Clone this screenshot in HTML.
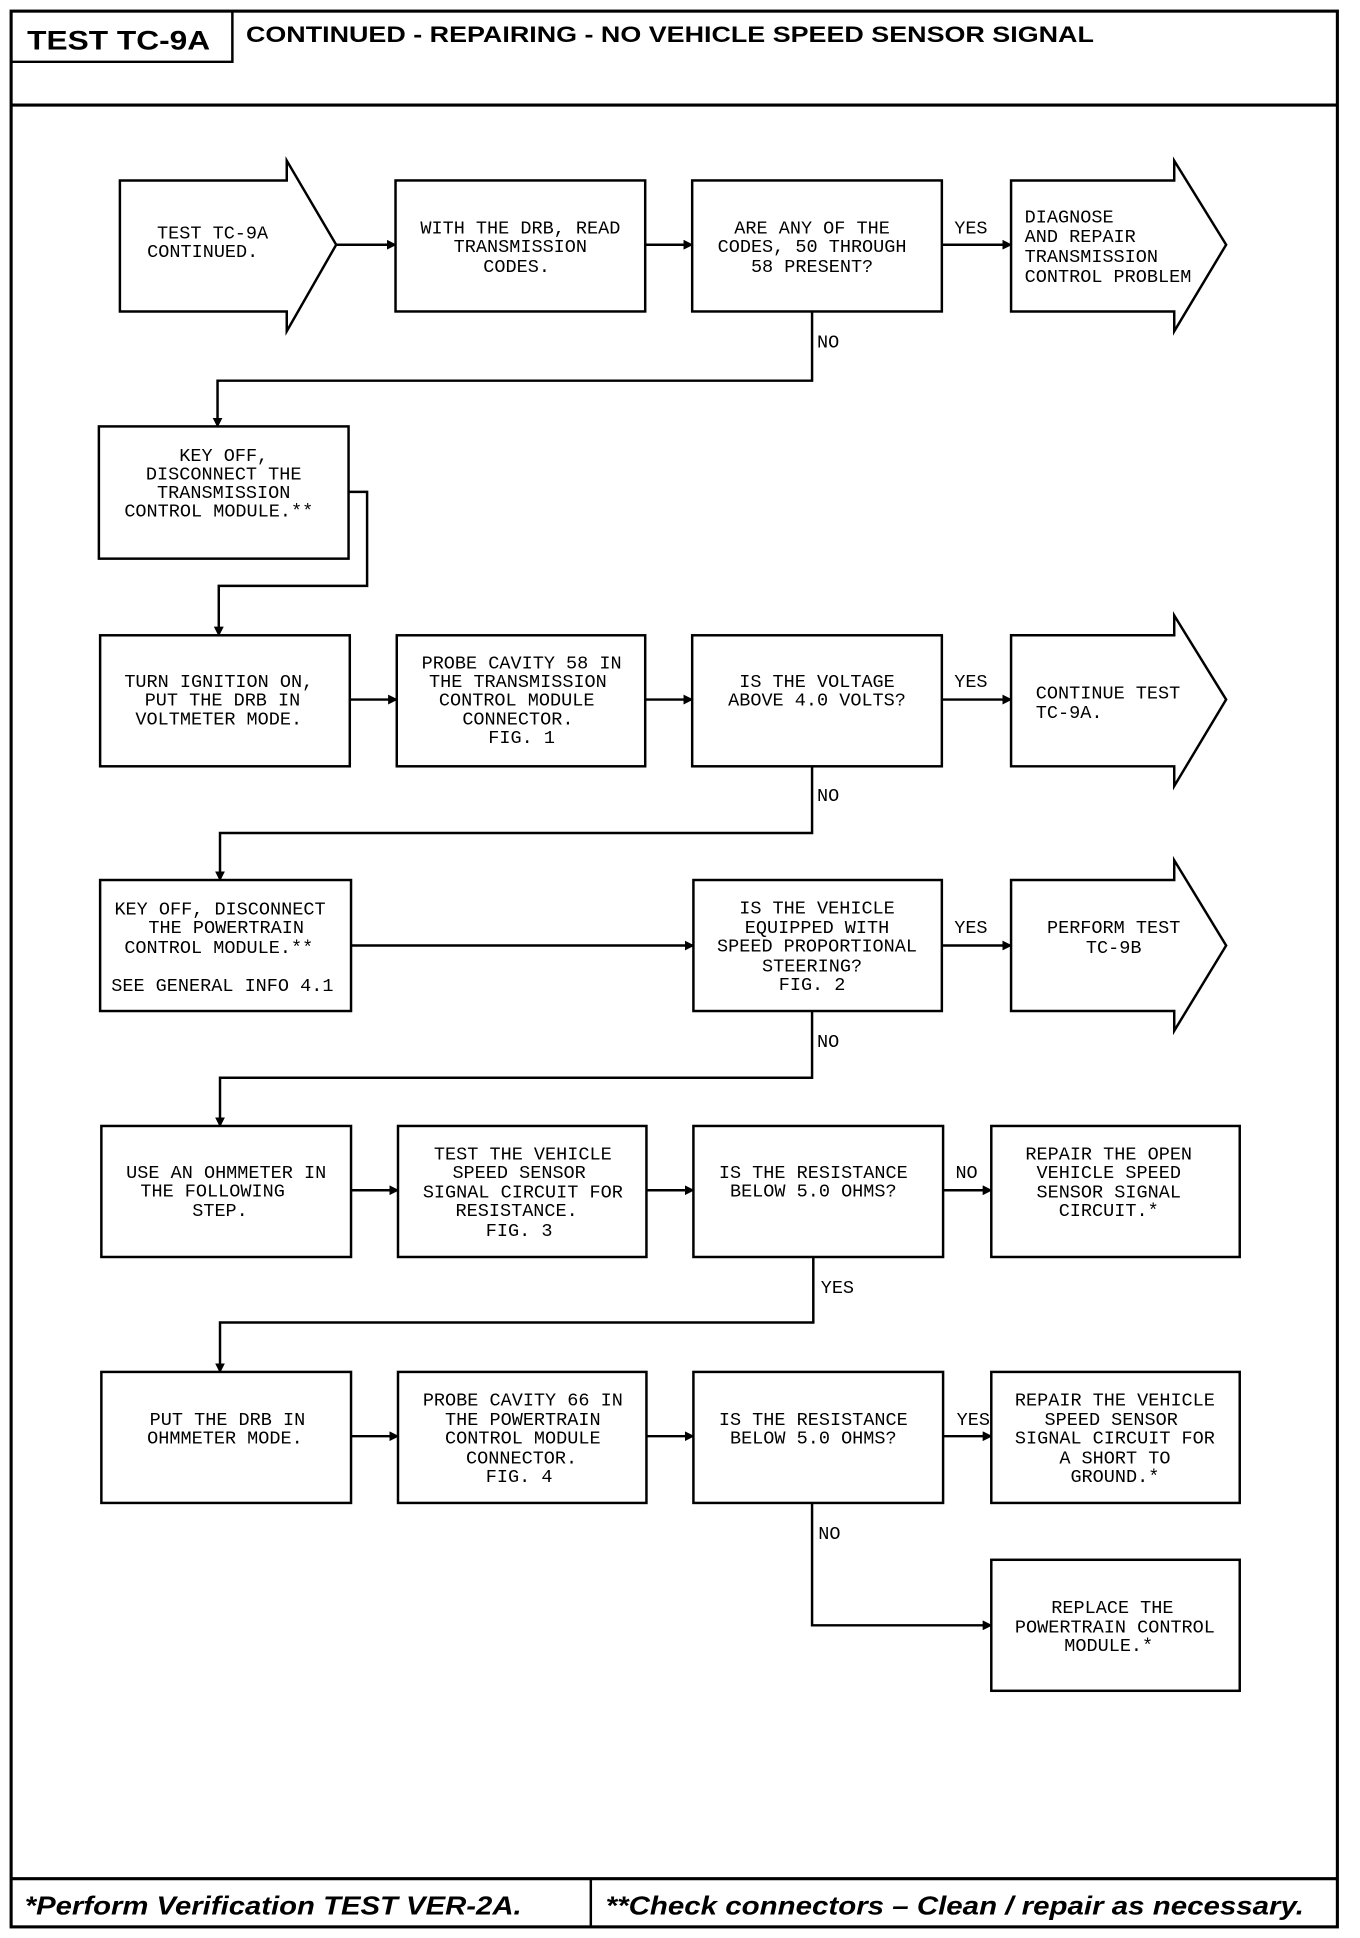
<!DOCTYPE html>
<html><head><meta charset="utf-8"><style>
html,body{margin:0;padding:0;background:#fff;}
svg{display:block;}
.t{font-family:"Liberation Mono",monospace;font-size:15px;fill:#000;}
.c{text-anchor:middle;}
.b{fill:#fff;stroke:#000;stroke-width:2;}
.l{fill:none;stroke:#000;stroke-width:2;}
</style></head><body>
<svg width="1360" height="1938" viewBox="0 0 1100.3 1568" preserveAspectRatio="none" xmlns="http://www.w3.org/2000/svg">
<defs><marker id="a" markerWidth="8" markerHeight="8" refX="7" refY="4" orient="auto" markerUnits="userSpaceOnUse"><path d="M0,0 L8,4 L0,8 z" fill="#000"/></marker></defs>
<rect x="9" y="9" width="1073" height="1550" fill="none" stroke="#000" stroke-width="2.5"/>
<path d="M188,9 V50 H9" class="l"/>
<line x1="9" y1="85" x2="1082" y2="85" stroke="#000" stroke-width="2.5"/>
<line x1="9" y1="1520" x2="1082" y2="1520" stroke="#000" stroke-width="2.5"/>
<line x1="478" y1="1520" x2="478" y2="1559" stroke="#000" stroke-width="2"/>
<text x="22" y="40" font-family="Liberation Sans,sans-serif" font-weight="bold" font-size="22" textLength="148" lengthAdjust="spacingAndGlyphs">TEST TC-9A</text>
<text x="199" y="34" font-family="Liberation Sans,sans-serif" font-weight="bold" font-size="18" textLength="686" lengthAdjust="spacingAndGlyphs">CONTINUED -  REPAIRING - NO VEHICLE SPEED SENSOR SIGNAL</text>
<text x="20" y="1549" font-family="Liberation Sans,sans-serif" font-weight="bold" font-style="italic" font-size="21" textLength="402" lengthAdjust="spacingAndGlyphs">*Perform Verification TEST VER-2A.</text>
<text x="490" y="1549" font-family="Liberation Sans,sans-serif" font-weight="bold" font-style="italic" font-size="21" textLength="565" lengthAdjust="spacingAndGlyphs">**Check connectors – Clean / repair as necessary.</text>

<!-- Row 1 -->
<polygon class="b" points="97,146 232,146 232,130 272,198 232,268 232,252 97,252"/>
<rect class="b" x="320" y="146" width="202" height="106"/>
<rect class="b" x="560" y="146" width="202" height="106"/>
<polygon class="b" points="818,146 950,146 950,130 992,198 950,268 950,252 818,252"/>
<line class="l" x1="272" y1="198" x2="320" y2="198" marker-end="url(#a)"/>
<line class="l" x1="522" y1="198" x2="560" y2="198" marker-end="url(#a)"/>
<line class="l" x1="762" y1="198" x2="818" y2="198" marker-end="url(#a)"/>
<text class="t c" x="172" y="193">TEST TC-9A</text>
<text class="t c" x="164" y="208">CONTINUED.</text>
<text class="t c" x="421" y="189">WITH THE DRB, READ</text>
<text class="t c" x="421" y="204">TRANSMISSION</text>
<text class="t c" x="418" y="220">CODES.</text>
<text class="t c" x="657" y="189">ARE ANY OF THE</text>
<text class="t c" x="657" y="204">CODES, 50 THROUGH</text>
<text class="t c" x="657" y="220">58 PRESENT?</text>
<text class="t" x="829" y="180">DIAGNOSE</text>
<text class="t" x="829" y="196">AND REPAIR</text>
<text class="t" x="829" y="212">TRANSMISSION</text>
<text class="t" x="829" y="228">CONTROL PROBLEM</text>
<text class="t" x="772" y="189">YES</text>
<text class="t" x="661" y="281">NO</text>
<path class="l" d="M657,252 V308 H176 V345" marker-end="url(#a)"/>

<!-- Row 2 -->
<rect class="b" x="80" y="345" width="202" height="107"/>
<text class="t c" x="181" y="373">KEY OFF,</text>
<text class="t c" x="181" y="388">DISCONNECT THE</text>
<text class="t c" x="181" y="403">TRANSMISSION</text>
<text class="t c" x="177" y="418">CONTROL MODULE.**</text>
<path class="l" d="M282,398 H297 V474 H177 V514" marker-end="url(#a)"/>

<!-- Row 3 -->
<rect class="b" x="81" y="514" width="202" height="106"/>
<rect class="b" x="321" y="514" width="201" height="106"/>
<rect class="b" x="560" y="514" width="202" height="106"/>
<polygon class="b" points="818,514 950,514 950,498 992,566 950,636 950,620 818,620"/>
<line class="l" x1="283" y1="566" x2="321" y2="566" marker-end="url(#a)"/>
<line class="l" x1="522" y1="566" x2="560" y2="566" marker-end="url(#a)"/>
<line class="l" x1="762" y1="566" x2="818" y2="566" marker-end="url(#a)"/>
<text class="t c" x="177" y="556">TURN IGNITION ON,</text>
<text class="t c" x="180" y="571">PUT THE DRB IN</text>
<text class="t c" x="177" y="586">VOLTMETER MODE.</text>
<text class="t c" x="422" y="541">PROBE CAVITY 58 IN</text>
<text class="t c" x="419" y="556">THE TRANSMISSION</text>
<text class="t c" x="418" y="571">CONTROL MODULE</text>
<text class="t c" x="419" y="586">CONNECTOR.</text>
<text class="t c" x="422" y="601">FIG. 1</text>
<text class="t c" x="661" y="556">IS THE VOLTAGE</text>
<text class="t c" x="661" y="571">ABOVE 4.0 VOLTS?</text>
<text class="t" x="838" y="565">CONTINUE TEST</text>
<text class="t" x="838" y="581">TC-9A.</text>
<text class="t" x="772" y="556">YES</text>
<text class="t" x="661" y="648">NO</text>
<path class="l" d="M657,620 V674 H178 V712" marker-end="url(#a)"/>

<!-- Row 4 -->
<rect class="b" x="81" y="712" width="203" height="106"/>
<rect class="b" x="561" y="712" width="201" height="106"/>
<polygon class="b" points="818,712 950,712 950,696 992,765 950,834 950,818 818,818"/>
<line class="l" x1="284" y1="765" x2="561" y2="765" marker-end="url(#a)"/>
<line class="l" x1="762" y1="765" x2="818" y2="765" marker-end="url(#a)"/>
<text class="t c" x="178" y="740">KEY OFF, DISCONNECT</text>
<text class="t c" x="183" y="755">THE POWERTRAIN</text>
<text class="t c" x="177" y="771">CONTROL MODULE.**</text>
<text class="t" x="90" y="802">SEE GENERAL INFO 4.1</text>
<text class="t c" x="661" y="739">IS THE VEHICLE</text>
<text class="t c" x="661" y="755">EQUIPPED WITH</text>
<text class="t c" x="661" y="770">SPEED PROPORTIONAL</text>
<text class="t c" x="657" y="786">STEERING?</text>
<text class="t c" x="657" y="801">FIG. 2</text>
<text class="t c" x="901" y="755">PERFORM TEST</text>
<text class="t c" x="901" y="771">TC-9B</text>
<text class="t" x="772" y="755">YES</text>
<text class="t" x="661" y="847">NO</text>
<path class="l" d="M657,818 V872 H178 V911" marker-end="url(#a)"/>

<!-- Row 5 -->
<rect class="b" x="82" y="911" width="202" height="106"/>
<rect class="b" x="322" y="911" width="201" height="106"/>
<rect class="b" x="561" y="911" width="202" height="106"/>
<rect class="b" x="802" y="911" width="201" height="106"/>
<line class="l" x1="284" y1="963" x2="322" y2="963" marker-end="url(#a)"/>
<line class="l" x1="523" y1="963" x2="561" y2="963" marker-end="url(#a)"/>
<line class="l" x1="763" y1="963" x2="802" y2="963" marker-end="url(#a)"/>
<text class="t c" x="183" y="953">USE AN OHMMETER IN</text>
<text class="t c" x="172" y="968">THE FOLLOWING</text>
<text class="t c" x="178" y="984">STEP.</text>
<text class="t c" x="423" y="938">TEST THE VEHICLE</text>
<text class="t c" x="420" y="953">SPEED SENSOR</text>
<text class="t c" x="423" y="969">SIGNAL CIRCUIT FOR</text>
<text class="t c" x="418" y="984">RESISTANCE.</text>
<text class="t c" x="420" y="1000">FIG. 3</text>
<text class="t c" x="658" y="953">IS THE RESISTANCE</text>
<text class="t c" x="658" y="968">BELOW 5.0 OHMS?</text>
<text class="t c" x="897" y="938">REPAIR THE OPEN</text>
<text class="t c" x="897" y="953">VEHICLE SPEED</text>
<text class="t c" x="897" y="969">SENSOR SIGNAL</text>
<text class="t c" x="897" y="984">CIRCUIT.*</text>
<text class="t" x="773" y="953">NO</text>
<text class="t" x="664" y="1046">YES</text>
<path class="l" d="M658,1017 V1070 H178 V1110" marker-end="url(#a)"/>

<!-- Row 6 -->
<rect class="b" x="82" y="1110" width="202" height="106"/>
<rect class="b" x="322" y="1110" width="201" height="106"/>
<rect class="b" x="561" y="1110" width="202" height="106"/>
<rect class="b" x="802" y="1110" width="201" height="106"/>
<line class="l" x1="284" y1="1162" x2="322" y2="1162" marker-end="url(#a)"/>
<line class="l" x1="523" y1="1162" x2="561" y2="1162" marker-end="url(#a)"/>
<line class="l" x1="763" y1="1162" x2="802" y2="1162" marker-end="url(#a)"/>
<text class="t c" x="184" y="1153">PUT THE DRB IN</text>
<text class="t c" x="182" y="1168">OHMMETER MODE.</text>
<text class="t c" x="423" y="1137">PROBE CAVITY 66 IN</text>
<text class="t c" x="423" y="1153">THE POWERTRAIN</text>
<text class="t c" x="423" y="1168">CONTROL MODULE</text>
<text class="t c" x="422" y="1184">CONNECTOR.</text>
<text class="t c" x="420" y="1199">FIG. 4</text>
<text class="t c" x="658" y="1153">IS THE RESISTANCE</text>
<text class="t c" x="658" y="1168">BELOW 5.0 OHMS?</text>
<text class="t c" x="902" y="1137">REPAIR THE VEHICLE</text>
<text class="t c" x="899" y="1153">SPEED SENSOR</text>
<text class="t c" x="902" y="1168">SIGNAL CIRCUIT FOR</text>
<text class="t c" x="902" y="1184">A SHORT TO</text>
<text class="t c" x="902" y="1199">GROUND.*</text>
<text class="t" x="774" y="1153">YES</text>
<text class="t" x="662" y="1245">NO</text>
<path class="l" d="M657,1216 V1315 H802" marker-end="url(#a)"/>
<rect class="b" x="802" y="1262" width="201" height="106"/>
<text class="t c" x="900" y="1305">REPLACE THE</text>
<text class="t c" x="902" y="1321">POWERTRAIN CONTROL</text>
<text class="t c" x="897" y="1336">MODULE.*</text>
</svg>
</body></html>
